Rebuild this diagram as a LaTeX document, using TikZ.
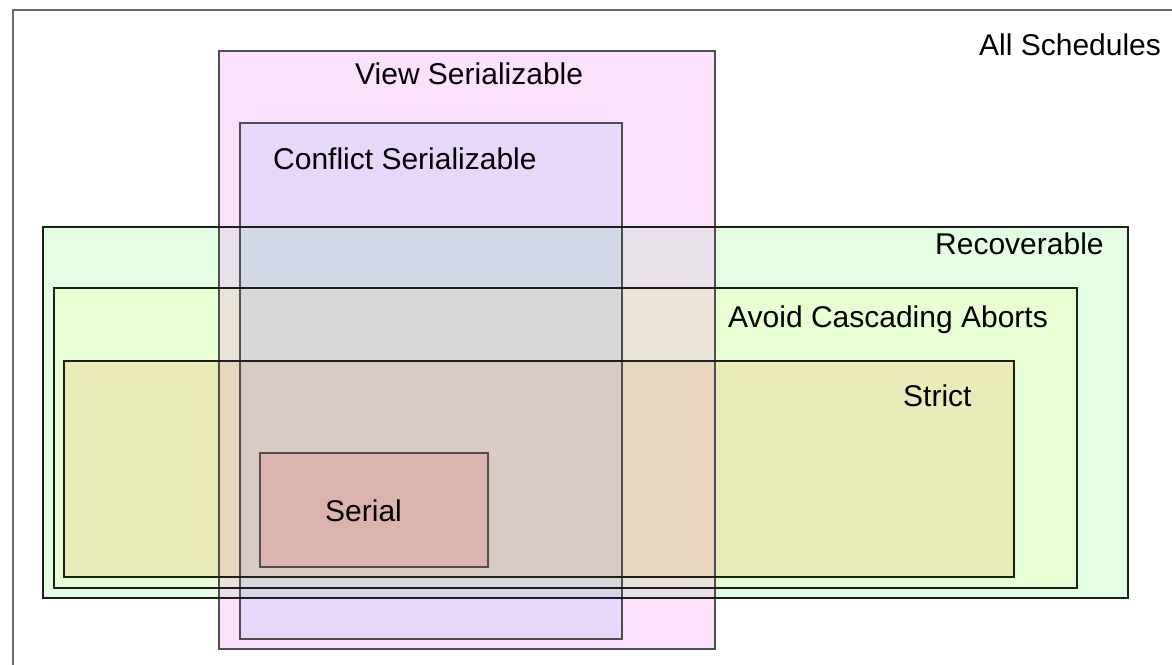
\documentclass[tikz,border=0pt]{standalone}
\usepackage{fontspec}
\setmainfont{Liberation Sans}

% fills of the single sets and of their overlaps
\definecolor{cView}{HTML}{FCE1FC}
\definecolor{cConf}{HTML}{E7D8FB}
\definecolor{cRec}{HTML}{E4FEE4}
\definecolor{cRecView}{HTML}{E7E1E9}
\definecolor{cRecConf}{HTML}{D3D8E9}
\definecolor{cAca}{HTML}{E8FED3}
\definecolor{cAcaView}{HTML}{EAE4D8}
\definecolor{cAcaConf}{HTML}{D8D8D8}
\definecolor{cStrict}{HTML}{E8ECB8}
\definecolor{cStrictView}{HTML}{E8D6BE}
\definecolor{cStrictConf}{HTML}{D8CBC3}
\definecolor{cSerial}{HTML}{DDB3AF}
% outlines
\definecolor{lnFrame}{HTML}{6A6A6A}
\definecolor{lnSer}{HTML}{4E4E4E}
\definecolor{lnRec}{HTML}{1E1E1E}

\begin{document}
\begin{tikzpicture}[x=1pt,y=-1pt,
  setline/.style={line width=1.2pt,draw=#1},
  lbl/.style={anchor=base west,inner sep=0pt,text=black,
    font=\fontsize{30}{36}\selectfont}]

\useasboundingbox (0,0) rectangle (1172,664);
\clip (0,0) rectangle (1172,664);
\fill[white] (0,0) rectangle (1172,664);

% corners of the sets
\coordinate (all-nw) at (13,10);   \coordinate (all-se) at (1190,690);
\coordinate (vs-nw)  at (219,51);  \coordinate (vs-se)  at (715,649);
\coordinate (cs-nw)  at (240,123); \coordinate (cs-se)  at (622,639);
\coordinate (rec-nw) at (43,227);  \coordinate (rec-se) at (1128,598);
\coordinate (aca-nw) at (54,288);  \coordinate (aca-se) at (1077,588);
\coordinate (st-nw)  at (64,361);  \coordinate (st-se)  at (1014,577);
\coordinate (ser-nw) at (260,453); \coordinate (ser-se) at (488,567);

% nested recovery classes
\fill[cRec]    (rec-nw) rectangle (rec-se);
\fill[cAca]    (aca-nw) rectangle (aca-se);
\fill[cStrict] (st-nw)  rectangle (st-se);

% view serializable and its overlaps
\fill[cView]       (vs-nw) rectangle (vs-se);
\fill[cRecView]    (vs-nw |- rec-nw) rectangle (vs-se |- rec-se);
\fill[cAcaView]    (vs-nw |- aca-nw) rectangle (vs-se |- aca-se);
\fill[cStrictView] (vs-nw |- st-nw)  rectangle (vs-se |- st-se);

% conflict serializable and its overlaps
\fill[cConf]       (cs-nw) rectangle (cs-se);
\fill[cRecConf]    (cs-nw |- rec-nw) rectangle (cs-se |- rec-se);
\fill[cAcaConf]    (cs-nw |- aca-nw) rectangle (cs-se |- aca-se);
\fill[cStrictConf] (cs-nw |- st-nw)  rectangle (cs-se |- st-se);

% serial schedules
\fill[cSerial] (ser-nw) rectangle (ser-se);

% outlines
\draw[setline=lnFrame,line width=1.5pt] (all-nw) rectangle (all-se);
\draw[setline=lnSer] (vs-nw) rectangle (vs-se);
\draw[setline=lnSer] (cs-nw) rectangle (cs-se);
\draw[setline=lnRec] (rec-nw) rectangle (rec-se);
\draw[setline=lnRec] (aca-nw) rectangle (aca-se);
\draw[setline=lnRec] (st-nw) rectangle (st-se);
\draw[setline=lnSer] (ser-nw) rectangle (ser-se);

% labels
\node[lbl] (lab-all)    at (979,55)  {All Schedules};
\node[lbl] (lab-view)   at (355,84)  {View Serializable};
\node[lbl] (lab-conf)   at (273,169) {Conflict Serializable};
\node[lbl] (lab-rec)    at (935,254) {Recoverable};
\node[lbl] (lab-aca)    at (728,327) {Avoid Cascading Aborts};
\node[lbl] (lab-strict) at (903,406) {Strict};
\node[lbl] (lab-serial) at (325,521) {Serial};
\end{tikzpicture}
\end{document}
